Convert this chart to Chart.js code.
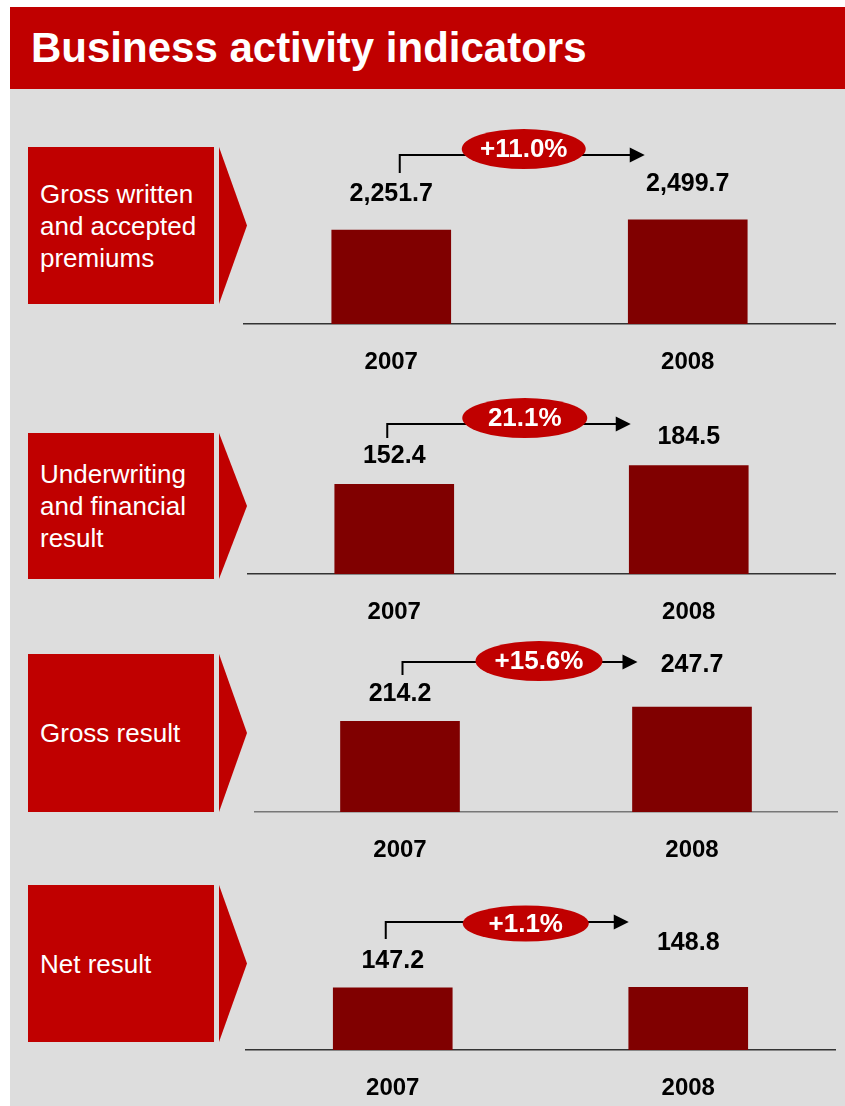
<!DOCTYPE html>
<html>
<head>
<meta charset="utf-8">
<script src="https://cdn.jsdelivr.net/npm/chart.js@4.4.1/dist/chart.umd.min.js"></script>
<style>
body { margin: 0; width: 845px; height: 1106px; position: relative; background: #fff; overflow: hidden;
       font-family: "Liberation Sans", Arial, sans-serif; }
#header { position: absolute; left: 10px; top: 7px; width: 835px; height: 82px; background: #C00000; }
#header h1 { margin: 0; position: absolute; left: 21px; top: 20px; color: #fff; font-size: 42px; line-height: 42px; font-weight: bold; }
#bg { position: absolute; left: 10px; top: 89px; width: 835px; height: 1017px; background: #DDDDDD; }
.box { position: absolute; left: 28px; width: 186px; background: #C00000; color: #fff; font-size: 26px; line-height: 32px;
       display: flex; align-items: center; padding-left: 12px; box-sizing: border-box; }
.tri { position: absolute; left: 219px; width: 28px; background: #C00000; clip-path: polygon(0 0, 100% 50%, 0 100%); }
canvas { position: absolute; }
</style>
</head>
<body>
<div id="header"><h1>Business activity indicators</h1></div>
<div id="bg"></div>
<div id="panels"></div>
<script>
// Dados
const years = ['2007', '2008'];
const panelTitles = [
    'Gross written<br>and accepted<br>premiums',
    'Underwriting<br>and financial<br>result',
    'Gross result',
    'Net result'
];
const grossPremiums = [2251.7, 2499.7];
const underwritingResult = [152.4, 184.5];
const grossResult = [214.2, 247.7];
const netResult = [147.2, 148.8];
const changeLabels = ['+11.0%', '21.1%', '+15.6%', '+1.1%'];
const axisMax = [4800, 340, 472, 474];

const series = [grossPremiums, underwritingResult, grossResult, netResult];

// Layout de cada painel (posições absolutas na página)
const layout = [
    { left: 243, right: 836, axis: 324, boxTop: 147, boxH: 157, lift: [36, 36], vx: 8.5, vUp: 151, lineUp: 169,
      ex: -164, eUp: 175, ew: 124, eh: 40, tip: -43, axisColor: '#333' },
    { left: 247, right: 836, axis: 574, boxTop: 433, boxH: 146, lift: [28, 28], vx: -7, vUp: 136, lineUp: 150,
      ex: -164, eUp: 156, ew: 125, eh: 40, tip: -58, axisColor: '#333' },
    { left: 254, right: 838, axis: 812, boxTop: 654, boxH: 158, lift: [27, 42], vx: 2.5, vUp: 137, lineUp: 150,
      ex: -153, eUp: 151, ew: 127, eh: 40, tip: -54.5, axisColor: '#777' },
    { left: 245, right: 836, axis: 1050, boxTop: 885, boxH: 157, lift: [27, 44], vx: -7, vUp: 111, lineUp: 128,
      ex: -162.5, eUp: 126.5, ew: 126, eh: 36, tip: -59.5, axisColor: '#333' }
];

const FONT = '"Liberation Sans", Arial, sans-serif';
const ABOVE = 240;   // espaço acima do eixo dentro do canvas
const BELOW = 70;    // espaço para os anos

function fmt(v) {
    return v.toLocaleString('en-US', { minimumFractionDigits: 1, maximumFractionDigits: 1 });
}

// Rótulos de valor + seta de crescimento
const growthArrow = {
    id: 'growthArrow',
    afterDatasetsDraw(chart, args, opts) {
        const ctx = chart.ctx;
        const L = opts.layout;
        const bars = chart.getDatasetMeta(0).data;
        const axisY = chart.scales.x.top;
        ctx.save();

        ctx.fillStyle = '#000';
        ctx.font = 'bold 25px ' + FONT;
        ctx.textAlign = 'center';
        ctx.textBaseline = 'middle';
        bars.forEach((bar, i) => {
            ctx.fillText(fmt(opts.values[i]), bar.x, bar.y - L.lift[i]);
        });

        const x0 = bars[0].x + L.vx;
        const xTip = bars[1].x + L.tip;
        const yLine = axisY - L.lineUp;
        ctx.strokeStyle = '#000';
        ctx.lineWidth = 2;
        ctx.beginPath();
        ctx.moveTo(x0, axisY - L.vUp);
        ctx.lineTo(x0, yLine);
        ctx.lineTo(xTip - 14, yLine);
        ctx.stroke();
        ctx.beginPath();
        ctx.moveTo(xTip, yLine);
        ctx.lineTo(xTip - 15, yLine - 7.5);
        ctx.lineTo(xTip - 15, yLine + 7.5);
        ctx.closePath();
        ctx.fill();

        const ecx = bars[1].x + L.ex;
        const ecy = axisY - L.eUp;
        ctx.fillStyle = '#C00000';
        ctx.beginPath();
        ctx.ellipse(ecx, ecy, L.ew / 2, L.eh / 2, 0, 0, Math.PI * 2);
        ctx.fill();
        ctx.fillStyle = '#fff';
        ctx.font = 'bold 26px ' + FONT;
        ctx.fillText(opts.change, ecx, ecy + 1);

        ctx.restore();
    }
};

const panels = document.getElementById('panels');
series.forEach((values, i) => {
    const L = layout[i];

    const box = document.createElement('div');
    box.className = 'box';
    box.style.top = L.boxTop + 'px';
    box.style.height = L.boxH + 'px';
    box.innerHTML = '<span>' + panelTitles[i] + '</span>';
    panels.appendChild(box);

    const tri = document.createElement('div');
    tri.className = 'tri';
    tri.style.top = L.boxTop + 'px';
    tri.style.height = L.boxH + 'px';
    panels.appendChild(tri);

    const canvas = document.createElement('canvas');
    const w = L.right - L.left;
    canvas.width = w;
    canvas.height = ABOVE + BELOW;
    canvas.style.left = L.left + 'px';
    canvas.style.top = (L.axis - ABOVE) + 'px';
    canvas.style.width = w + 'px';
    canvas.style.height = (ABOVE + BELOW) + 'px';
    panels.appendChild(canvas);

    new Chart(canvas, {
        type: 'bar',
        data: {
            labels: years,
            datasets: [{
                data: values,
                backgroundColor: '#800000',
                barThickness: 119
            }]
        },
        options: {
            responsive: false,
            animation: false,
            layout: { padding: { top: 40, left: 0, right: 0, bottom: 0 } },
            plugins: {
                legend: { display: false },
                tooltip: { enabled: false },
                growthArrow: { layout: L, values: values, change: changeLabels[i] }
            },
            scales: {
                x: {
                    grid: { display: false, drawTicks: false },
                    border: { display: true, color: L.axisColor, width: 1.5 },
                    ticks: { color: '#000', padding: 24, font: { family: FONT, size: 24, weight: 'bold' } },
                    afterFit(scale) { scale.height = BELOW; }
                },
                y: { display: false, min: 0, max: axisMax[i] }
            }
        },
        plugins: [growthArrow]
    });
});
</script>
</body>
</html>
